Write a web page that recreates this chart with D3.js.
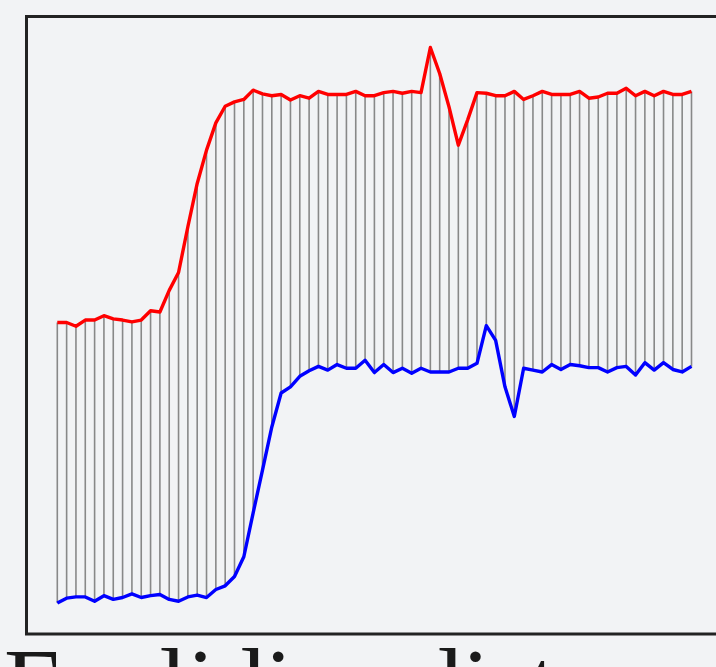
<!DOCTYPE html>
<html>
<head>
<meta charset="utf-8">
<script src="https://cdn.jsdelivr.net/npm/d3@7"></script>
<style>
  html, body { margin: 0; padding: 0; background: #f2f3f5; overflow: hidden; }
</style>
</head>
<body>
<div id="chart"></div>
<script>
// distance values, one per step
const upper = [50.4, 50.4, 49.8, 50.8, 50.8, 51.5, 51.0, 50.8, 50.5, 50.8,
  52.3, 52.1, 55.6, 58.5, 65.9, 72.9, 78.3, 82.7, 85.4, 86.1,
  86.5, 88.0, 87.4, 87.1, 87.3, 86.4, 87.1, 86.7, 87.8, 87.3,
  87.3, 87.3, 87.8, 87.1, 87.1, 87.6, 87.8, 87.5, 87.8, 87.6,
  94.9, 90.7, 85.3, 79.1, 83.2, 87.6, 87.5, 87.1, 87.1, 87.8,
  86.5, 87.1, 87.8, 87.3, 87.3, 87.3, 87.8, 86.7, 86.9, 87.5,
  87.5, 88.3, 87.1, 87.8, 87.1, 87.8, 87.3, 87.3, 87.8];

const lower = [5.0, 5.8, 6.0, 6.0, 5.3, 6.2, 5.6, 5.9, 6.5, 5.9,
  6.2, 6.4, 5.6, 5.3, 6.0, 6.3, 5.9, 7.2, 7.8, 9.3,
  12.5, 19.6, 26.5, 33.5, 39.0, 40.0, 41.7, 42.6, 43.3, 42.7,
  43.6, 43.0, 43.0, 44.3, 42.3, 43.6, 42.3, 43.0, 42.2, 43.0,
  42.4, 42.4, 42.4, 43.0, 43.0, 43.8, 49.9, 47.5, 40.0, 35.2,
  43.0, 42.7, 42.4, 43.6, 42.8, 43.6, 43.4, 43.1, 43.1, 42.4,
  43.1, 43.3, 41.9, 43.9, 42.7, 43.9, 42.8, 42.4, 43.3];

const steps = d3.range(upper.length);
const title = "Euclidian distance";

const W = 716, H = 667;

const svg = d3.select("#chart").append("svg")
  .attr("width", W)
  .attr("height", H);

svg.append("rect")
  .attr("width", W).attr("height", H)
  .attr("fill", "#f2f3f5");

const x = d3.scaleLinear()
  .domain([0, steps.length - 1])
  .range([57.3, 691.5]);

const y = d3.scaleLinear()
  .domain([0, 100])
  .range([634, 16]);

// frame
svg.append("rect")
  .attr("x", 26.5)
  .attr("y", 16.5)
  .attr("width", 760)
  .attr("height", 617.5)
  .attr("fill", "none")
  .attr("stroke", "#222")
  .attr("stroke-width", 3);

// connectors between the two series
svg.append("g")
  .selectAll("line")
  .data(steps)
  .join("line")
  .attr("x1", d => x(d))
  .attr("x2", d => x(d))
  .attr("y1", d => y(upper[d]))
  .attr("y2", d => y(lower[d]))
  .attr("stroke", "#888")
  .attr("stroke-width", 1.6);

const line = d3.line()
  .x((d, i) => x(i))
  .y(d => y(d));

svg.append("path")
  .datum(upper)
  .attr("d", line)
  .attr("fill", "none")
  .attr("stroke", "#ff0000")
  .attr("stroke-width", 3.4)
  .attr("stroke-linejoin", "round");

svg.append("path")
  .datum(lower)
  .attr("d", line)
  .attr("fill", "none")
  .attr("stroke", "#0000ff")
  .attr("stroke-width", 3.4)
  .attr("stroke-linejoin", "round");

svg.append("text")
  .attr("x", 4)
  .attr("y", 717)
  .style("font-family", "'Liberation Serif', 'DejaVu Serif', serif")
  .style("font-size", "100px")
  .attr("fill", "#1a1a1a")
  .text(title);
</script>
</body>
</html>
